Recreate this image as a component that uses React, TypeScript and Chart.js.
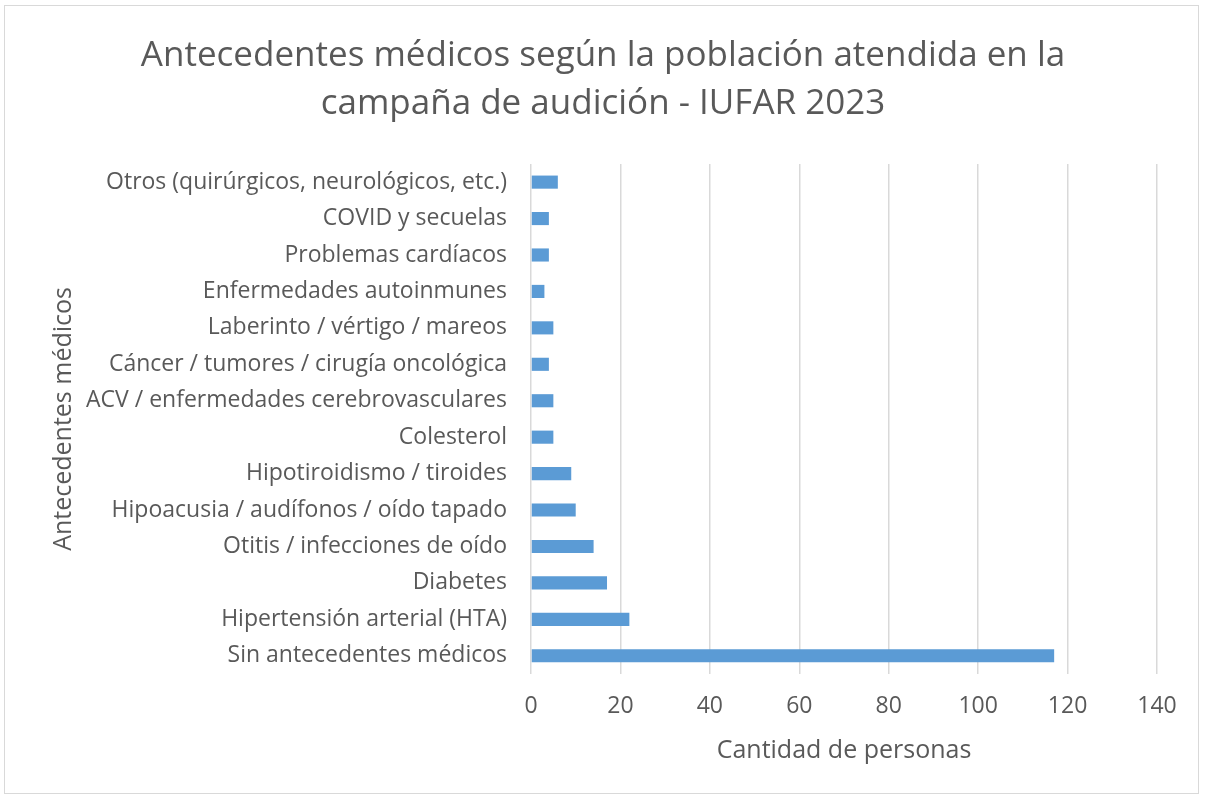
import React, { useEffect, useRef } from "react";
import { Chart, registerables } from "chart.js";

Chart.register(...registerables);

const categories: string[] = [
  "Otros (quirúrgicos, neurológicos, etc.)",
  "COVID y secuelas",
  "Problemas cardíacos",
  "Enfermedades autoinmunes",
  "Laberinto / vértigo / mareos",
  "Cáncer / tumores / cirugía oncológica",
  "ACV / enfermedades cerebrovasculares",
  "Colesterol",
  "Hipotiroidismo / tiroides",
  "Hipoacusia / audífonos / oído tapado",
  "Otitis / infecciones de oído",
  "Diabetes",
  "Hipertensión arterial (HTA)",
  "Sin antecedentes médicos",
];

const personas: number[] = [6, 4, 4, 3, 5, 4, 5, 5, 9, 10, 14, 17, 22, 117];

const titleLines: string[] = [
  "Antecedentes médicos según la población atendida en la",
  "campaña de audición - IUFAR 2023",
];
const xTitle = "Cantidad de personas";
const yTitle = "Antecedentes médicos";

const TEXT = "#595959";
const GRID = "#d9d9d9";
const BAR = "#5b9bd5";
const FONT = "'Open Sans', Lato, sans-serif";

export default function App() {
  const ref = useRef<HTMLCanvasElement | null>(null);

  useEffect(() => {
    if (!ref.current) return;
    const chart = new Chart(ref.current, {
      type: "bar",
      data: {
        labels: categories,
        datasets: [
          {
            data: personas,
            backgroundColor: BAR,
            borderWidth: 0,
            categoryPercentage: 1,
            barPercentage: 0.36,
          },
        ],
      },
      options: {
        indexAxis: "y",
        responsive: false,
        animation: false,
        layout: { padding: { left: 49, right: 48, top: 8, bottom: 10 } },
        plugins: {
          legend: { display: false },
          tooltip: { enabled: false },
          title: {
            display: true,
            text: titleLines,
            color: TEXT,
            font: { family: FONT, size: 35, weight: "normal", lineHeight: 1.37 },
            padding: { top: 24, bottom: 36 },
          },
        },
        scales: {
          x: {
            min: 0,
            max: 140,
            ticks: {
              stepSize: 20,
              color: TEXT,
              padding: 19,
              font: { family: FONT, size: 23 },
            },
            grid: { color: GRID, lineWidth: 1.5, drawTicks: false },
            border: { display: false },
            title: {
              display: true,
              text: xTitle,
              color: TEXT,
              font: { family: FONT, size: 25 },
              padding: { top: 0, bottom: 23 },
            },
            afterFit: (scale: any) => {
              scale.height = 115;
            },
          },
          y: {
            ticks: {
              color: TEXT,
              padding: 24,
              font: { family: FONT, size: 23 },
            },
            grid: { display: false, drawTicks: false },
            border: { display: false },
            title: {
              display: true,
              text: yTitle,
              color: TEXT,
              font: { family: FONT, size: 25 },
              padding: { top: 0, bottom: 0 },
            },
            afterFit: (scale: any) => {
              scale.width = 531 - 49;
            },
          },
        },
      },
    });
    return () => chart.destroy();
  }, []);

  return (
    <div style={{ position: "absolute", left: 0, top: 0, width: 1205, height: 799, background: "#fff" }}>
      <div
        style={{
          position: "absolute",
          left: 4,
          top: 5,
          width: 1195,
          height: 789,
          border: "1px solid #d9d9d9",
          boxSizing: "border-box",
        }}
      />
      <canvas ref={ref} width={1205} height={799} style={{ position: "absolute", left: 0, top: 0 }} />
    </div>
  );
}
